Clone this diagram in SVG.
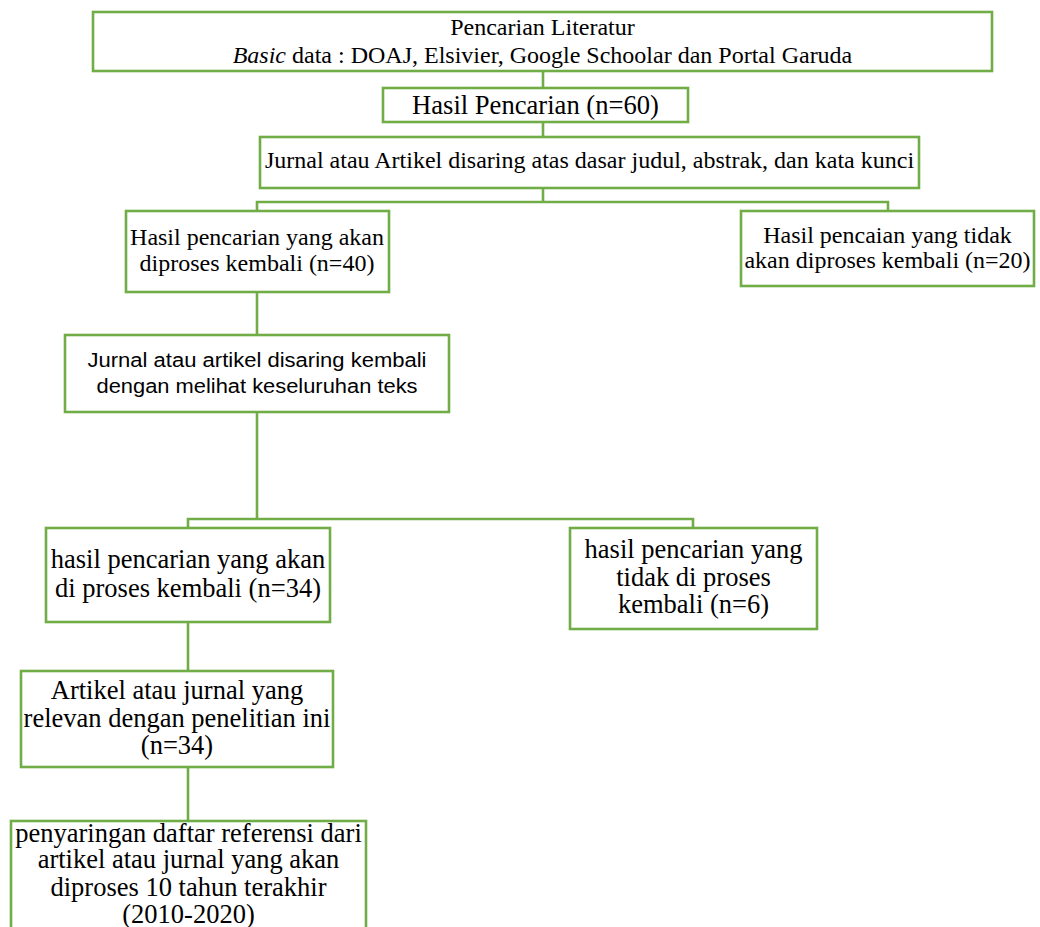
<svg xmlns="http://www.w3.org/2000/svg" width="1040" height="927" viewBox="0 0 1040 927">
<style>
.box{fill:#fff;stroke:#70AD47;stroke-width:2.6}
.con{fill:none;stroke:#70AD47;stroke-width:2.6}
.t{font-family:"Liberation Serif","Times New Roman",serif;fill:#000;text-anchor:middle}
.s24{font-size:24px}
.s26{font-size:26.5px}
.s27{font-size:26.6px}
.sans{font-family:"Liberation Sans",Arial,sans-serif;font-size:19.5px;fill:#000;text-anchor:middle}
</style>
<rect width="1040" height="927" fill="#fff"/>
<g id="connectors">
<line class="con" x1="543" y1="71" x2="543" y2="88"/>
<line class="con" x1="543" y1="122" x2="543" y2="137"/>
<polyline class="con" points="543,188 543,202"/>
<polyline class="con" points="257,211 257,202 888,202 888,211"/>
<line class="con" x1="257" y1="292" x2="257" y2="335"/>
<line class="con" x1="257" y1="412" x2="257" y2="519"/>
<polyline class="con" points="188,528 188,519 693,519 693,528"/>
<line class="con" x1="188" y1="622" x2="188" y2="671"/>
<line class="con" x1="188" y1="767" x2="188" y2="821"/>
</g>
<g id="n1">
<rect class="box" x="93" y="12" width="899" height="59"/>
<text class="t s24" x="542.5" y="35">Pencarian Literatur</text>
<text class="t s24" x="542.5" y="63"><tspan font-style="italic">Basic</tspan> data : DOAJ, Elsivier, Google Schoolar dan Portal Garuda</text>
</g>
<g id="n2">
<rect class="box" x="383" y="88" width="305" height="34"/>
<text class="t s27" x="535.5" y="114">Hasil Pencarian (n=60)</text>
</g>
<g id="n3">
<rect class="box" x="260" y="137" width="659" height="51"/>
<text class="t s24" x="589.5" y="168">Jurnal atau Artikel disaring atas dasar judul, abstrak, dan kata kunci</text>
</g>
<g id="n4">
<rect class="box" x="126" y="211" width="263" height="81"/>
<text class="t s24" x="257" y="245">Hasil pencarian yang akan</text>
<text class="t s24" x="257" y="271">diproses kembali (n=40)</text>
</g>
<g id="n5">
<rect class="box" x="741" y="211" width="293" height="75"/>
<text class="t s24" x="887.5" y="243">Hasil pencaian yang tidak</text>
<text class="t s24" x="887.5" y="268">akan diproses kembali (n=20)</text>
</g>
<g id="n6">
<rect class="box" x="65" y="335" width="384" height="77"/>
<text class="sans" x="257" y="367" textLength="339" lengthAdjust="spacingAndGlyphs">Jurnal atau artikel disaring kembali</text>
<text class="sans" x="257" y="393" textLength="321" lengthAdjust="spacingAndGlyphs">dengan melihat keseluruhan teks</text>
</g>
<g id="n7">
<rect class="box" x="46" y="528" width="284" height="94"/>
<text class="t s26" x="188" y="568">hasil pencarian yang akan</text>
<text class="t s26" x="188" y="597">di proses kembali (n=34)</text>
</g>
<g id="n8">
<rect class="box" x="570" y="528" width="247" height="101"/>
<text class="t s26" x="693.5" y="558">hasil pencarian yang</text>
<text class="t s26" x="693.5" y="586">tidak di proses</text>
<text class="t s26" x="693.5" y="613">kembali (n=6)</text>
</g>
<g id="n9">
<rect class="box" x="21" y="671" width="312" height="96"/>
<text class="t s26" x="177" y="699">Artikel atau jurnal yang</text>
<text class="t s26" x="177" y="727">relevan dengan penelitian ini</text>
<text class="t s26" x="177" y="754">(n=34)</text>
</g>
<g id="n10">
<rect class="box" x="11" y="821" width="355" height="120"/>
<text class="t s26" x="188.5" y="842">penyaringan daftar referensi dari</text>
<text class="t s26" x="188.5" y="868">artikel atau jurnal yang akan</text>
<text class="t s26" x="188.5" y="896">diproses 10 tahun terakhir</text>
<text class="t s26" x="188.5" y="923">(2010-2020)</text>
</g>
</svg>
